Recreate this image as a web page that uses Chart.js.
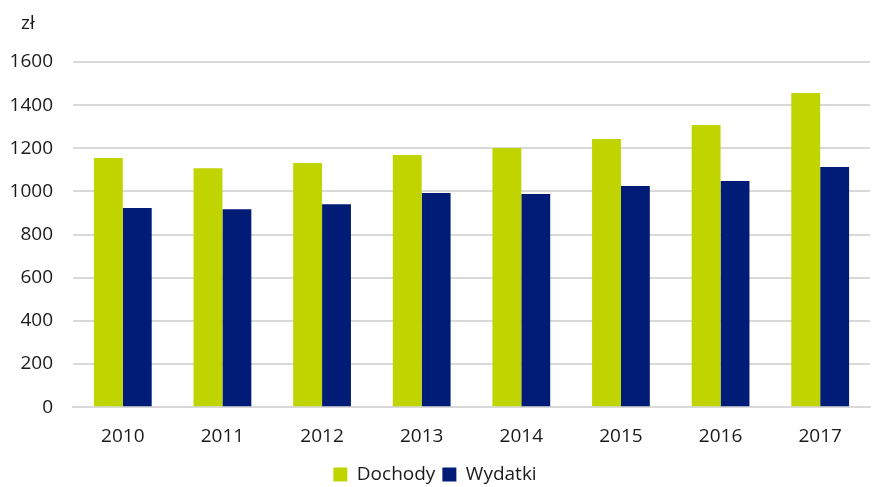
<!DOCTYPE html>
<html>
<head>
<meta charset="utf-8">
<script src="https://cdn.jsdelivr.net/npm/chart.js@4"></script>
<style>
  html, body { margin: 0; padding: 0; background: #fff; }
  #wrap { width: 874px; height: 487px; }
</style>
</head>
<body>
<div id="wrap"><canvas id="chart" width="874" height="487"></canvas></div>
<script>
// lata i wartości (zł)
const years = ['2010', '2011', '2012', '2013', '2014', '2015', '2016', '2017'];
const dochody = [1155, 1108, 1132, 1169, 1201, 1243, 1308, 1456];
const wydatki = [923, 918, 941, 993, 988, 1025, 1048, 1113];

const FONT = "'Open Sans', 'Noto Sans', sans-serif";
const GRID = '#d9d9d9';

// napis "zł" nad osią Y
const unitLabel = {
    id: 'unitLabel',
    afterDraw(chart) {
        const ctx = chart.ctx;
        ctx.save();
        ctx.font = '19px ' + FONT;
        ctx.fillStyle = '#1a1a1a';
        ctx.textBaseline = 'middle';
        ctx.fillText('zł', 21, 24);
        ctx.restore();
    }
};

new Chart(document.getElementById('chart').getContext('2d'), {
    type: 'bar',
    data: {
        labels: years,
        datasets: [{
            label: 'Dochody',
            data: dochody,
            backgroundColor: '#c0d500',
            categoryPercentage: 0.58,
            barPercentage: 1
        }, {
            label: 'Wydatki',
            data: wydatki,
            backgroundColor: '#001c77',
            categoryPercentage: 0.58,
            barPercentage: 1
        }]
    },
    options: {
        responsive: false,
        animation: false,
        layout: { padding: { top: 62, right: 4, left: 0, bottom: -7 } },
        plugins: {
            legend: {
                position: 'bottom',
                labels: {
                    boxWidth: 14,
                    boxHeight: 14,
                    padding: 7,
                    color: '#1a1a1a',
                    font: { family: FONT, size: 19 }
                }
            },
            tooltip: { enabled: false }
        },
        scales: {
            x: {
                grid: { display: false },
                border: { color: GRID, width: 2 },
                ticks: { color: '#1a1a1a', padding: 10, font: { family: FONT, size: 19 } }
            },
            y: {
                min: 0,
                max: 1600,
                afterFit(scale) { scale.width = 73; },
                grid: { color: GRID, lineWidth: 2, drawTicks: false },
                border: { display: false },
                ticks: {
                    stepSize: 200,
                    padding: 20,
                    color: '#1a1a1a',
                    font: { family: FONT, size: 19 },
                    callback: v => String(v)
                }
            }
        }
    },
    plugins: [unitLabel]
});
</script>
</body>
</html>
